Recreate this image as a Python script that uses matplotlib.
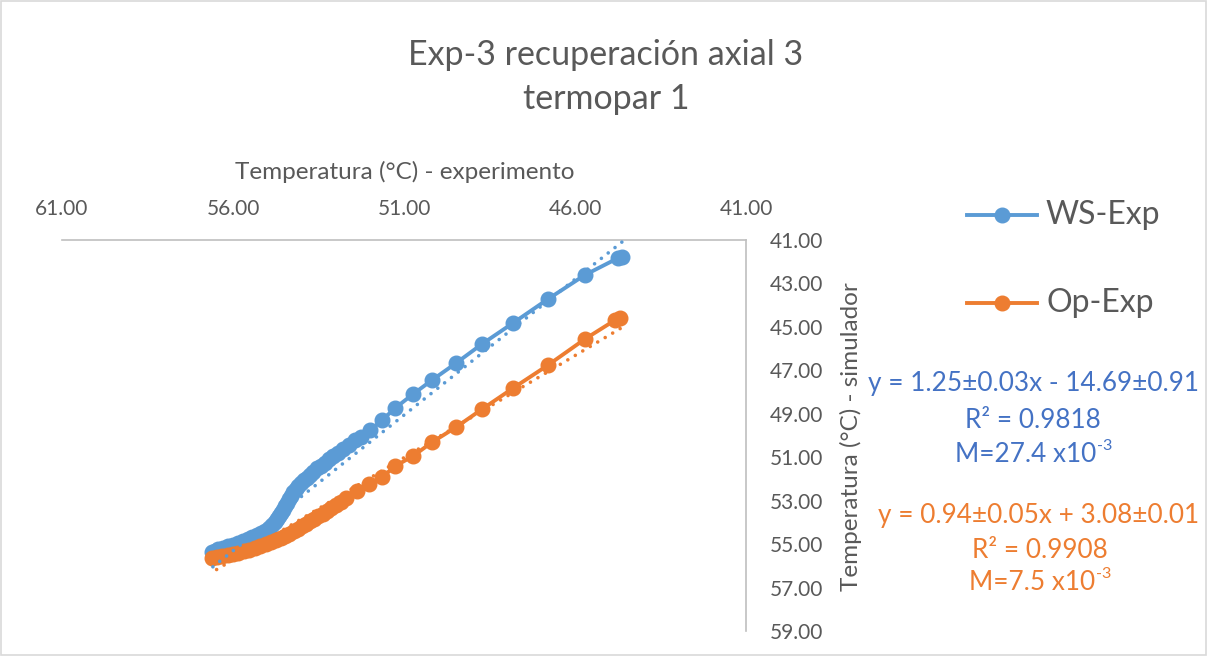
import matplotlib
matplotlib.use("Agg")
import matplotlib.pyplot as plt
from matplotlib.lines import Line2D
from matplotlib.patches import Rectangle
import numpy as np

plt.rcParams['font.family'] = ['Lato', 'DejaVu Sans']

# WS-Exp: experiment temperature (x) vs simulator temperature (y)
ws_x = [44.63, 44.74, 45.71, 46.79, 47.81, 48.72, 49.48, 50.18, 50.74, 51.26,
        51.64, 51.99, 52.25, 52.43, 52.62, 52.78, 52.94, 53.08, 53.20, 53.31,
        53.43, 53.54, 53.65, 53.75, 53.84, 53.92, 54.01, 54.10, 54.17, 54.25,
        54.31, 54.36, 54.42, 54.48, 54.54, 54.60, 54.65, 54.71, 54.78, 54.86,
        54.96, 55.06, 55.18, 55.30, 55.43, 55.56, 55.70, 55.85, 56.00, 56.15,
        56.30, 56.44, 56.53, 56.61]
ws_y = [41.78, 41.83, 42.61, 43.72, 44.82, 45.79, 46.67, 47.45, 48.10, 48.74,
        49.29, 49.76, 50.05, 50.22, 50.45, 50.63, 50.80, 50.95, 51.10, 51.28,
        51.40, 51.51, 51.66, 51.83, 51.95, 52.06, 52.20, 52.34, 52.47, 52.61,
        52.78, 52.94, 53.10, 53.26, 53.42, 53.58, 53.72, 53.86, 54.00, 54.13,
        54.27, 54.41, 54.51, 54.59, 54.69, 54.78, 54.87, 54.96, 55.03, 55.10,
        55.17, 55.24, 55.30, 55.38]

# Op-Exp
op_x = [44.68, 44.83, 45.71, 46.79, 47.81, 48.72, 49.48, 50.18, 50.74, 51.26,
        51.64, 52.02, 52.37, 52.70, 52.85, 52.99, 53.12, 53.25, 53.38, 53.51,
        53.63, 53.75, 53.86, 53.98, 54.10, 54.22, 54.35, 54.48, 54.61, 54.74,
        54.89, 55.04, 55.20, 55.36, 55.52, 55.68, 55.84, 56.00, 56.16, 56.32,
        56.47, 56.61]
op_y = [44.59, 44.69, 45.56, 46.76, 47.82, 48.79, 49.62, 50.31, 50.95, 51.41,
        51.92, 52.24, 52.57, 52.89, 53.05, 53.21, 53.35, 53.49, 53.61, 53.72,
        53.84, 53.95, 54.07, 54.18, 54.30, 54.41, 54.53, 54.64, 54.73, 54.82,
        54.92, 55.01, 55.10, 55.19, 55.26, 55.33, 55.40, 55.47, 55.52, 55.56,
        55.61, 55.65]

# linear fits reported on the chart
ws_fit = (1.25, -14.69)
op_fit = (0.94, 3.08)

ticks = [61, 56, 51, 46, 41]
yticks = [41, 43, 45, 47, 49, 51, 53, 55, 57, 59]

blue = '#5B9BD5'
orange = '#ED7D31'
eq_blue = '#4472C4'
txt = '#595959'
grid = '#BFBFBF'

W, H = 1208, 656
fig = plt.figure(figsize=(W / 100, H / 100), dpi=100)
ax = fig.add_axes([62/W, 1 - 631/H, (746 - 62)/W, (631 - 240)/H])

ax.plot(ws_x, ws_y, color=blue, lw=2.8, marker='o', ms=10.5, zorder=2)
ax.plot(op_x, op_y, color=orange, lw=2.8, marker='o', ms=10.5, zorder=3)

# dotted trendlines over the data range
for xs, (m, b), c in [(ws_x, ws_fit, blue), (op_x, op_fit, orange)]:
    xx = np.array([min(xs), max(xs)])
    ax.plot(xx, m * xx + b, color=c, lw=2.6, linestyle=(0, (0.01, 2.4)),
            dash_capstyle='round', zorder=4)

ax.set_xlim(61, 41)
ax.set_ylim(59, 41)
ax.set_xticks(ticks)
ax.set_xticklabels([f'{t:.2f}' for t in ticks])
ax.set_yticks(yticks)
ax.set_yticklabels([f'{t:.2f}' for t in yticks])
ax.xaxis.tick_top()
ax.yaxis.tick_right()
ax.tick_params(axis='x', length=0, pad=15, labelsize=15, labelcolor=txt)
ax.tick_params(axis='y', length=0, pad=17, labelsize=15, labelcolor=txt)
for t in ax.get_yticklabels():
    t.set_horizontalalignment('left')
for s in ['left', 'bottom']:
    ax.spines[s].set_visible(False)
for s in ['top', 'right']:
    ax.spines[s].set_color(grid)
    ax.spines[s].set_linewidth(1.2)

fig.text(405/W, 1 - 172/H, 'Temperatura (°C) - experimento', ha='center', va='center',
         fontsize=17.5, color=txt)
fig.text(851/W, 1 - 437/H, 'Temperatura (°C) - simulador', ha='center', va='center',
         rotation=90, fontsize=17.5, color=txt)

fig.text(606/W, 1 - 55/H, 'Exp-3 recuperación axial 3', ha='center', va='center',
         fontsize=24.5, color=txt)
fig.text(606/W, 1 - 99/H, 'termopar 1', ha='center', va='center',
         fontsize=24.5, color=txt)

# legend
for yy, c, lab in [(215, blue, 'WS-Exp'), (303, orange, 'Op-Exp')]:
    fig.add_artist(Line2D([967/W, 1037/W], [1 - yy/H] * 2, color=c, lw=2.8,
                          transform=fig.transFigure))
    fig.add_artist(Line2D([1002/W], [1 - yy/H], color=c, marker='o', ms=10.5,
                          transform=fig.transFigure))
    fig.text(1046/W, 1 - yy/H, lab, ha='left', va='center', fontsize=23, color=txt)

fs = 18.8
fig.text(1033/W, 1 - 383/H, 'y = 1.25±0.03x - 14.69±0.91', ha='center', va='center',
         fontsize=fs, color=eq_blue)
fig.text(1033/W, 1 - 420/H, 'R² = 0.9818', ha='center', va='center',
         fontsize=fs, color=eq_blue)
fig.text(1039/W, 1 - 515/H, 'y = 0.94±0.05x + 3.08±0.01', ha='center', va='center',
         fontsize=fs, color=orange)
fig.text(1040/W, 1 - 550/H, 'R² = 0.9908', ha='center', va='center',
         fontsize=fs, color=orange)

# "M=... x10" with a small raised "-3"
renderer = fig.canvas.get_renderer()
for xc, yy, base, c in [(1033, 455, 'M=27.4 x10', eq_blue), (1040, 583, 'M=7.5 x10', orange)]:
    t1 = fig.text(0, 1 - yy/H, base, ha='left', va='center', fontsize=fs, color=c)
    t2 = fig.text(0, 1 - (yy - 9)/H, '-3', ha='left', va='center', fontsize=fs * 0.62, color=c)
    w1 = t1.get_window_extent(renderer).width
    w2 = t2.get_window_extent(renderer).width
    x0 = xc - (w1 + w2) / 2
    t1.set_x(x0 / W)
    t2.set_x((x0 + w1 + 1) / W)

fig.add_artist(Rectangle((0.001, 0.001), 0.997, 0.997, transform=fig.transFigure,
                         fill=False, edgecolor='#D9D9D9', lw=1.2))

fig.savefig('out.png', dpi=100)
